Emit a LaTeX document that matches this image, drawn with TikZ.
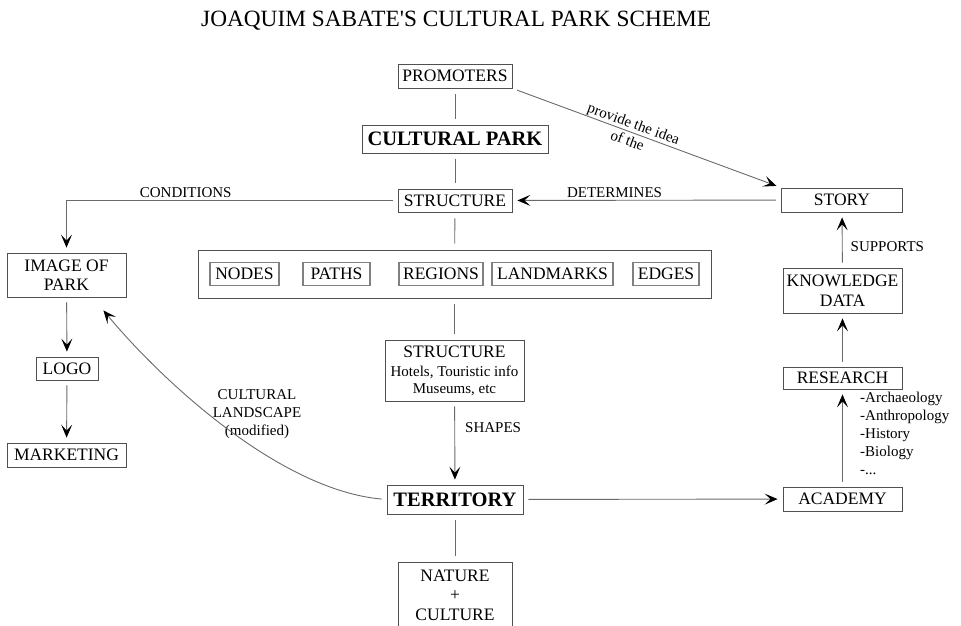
\documentclass[tikz,border=0pt]{standalone}
\usepackage{fontspec}
\setmainfont{Liberation Serif}
\newfontfamily\titlefont[Ligatures=TeXOff]{Liberation Serif}
\usetikzlibrary{arrows.meta}
\definecolor{linegray}{HTML}{6A6A6A}
\definecolor{boxgray}{HTML}{505050}
\newcommand\boxfont{\fontsize{17.5}{19.5}\selectfont}
\newcommand\labfont{\fontsize{15}{18}\selectfont}
\newcommand\bigfont{\fontsize{20.5}{24}\selectfont\bfseries}
\begin{document}
\begin{tikzpicture}[x=1pt,y=-1pt,
  box/.style={draw=boxgray, line width=0.8pt, inner sep=0pt, align=center, font=\boxfont},
  inbox/.style={box, line width=1.1pt, draw=gray, minimum height=23pt},
  conn/.style={draw=linegray, line width=0.9pt, shorten <=6pt, shorten >=6pt},
  arr/.style={draw=linegray, line width=0.9pt, -{Stealth[length=13pt,width=11pt,inset=6pt,color=black]}, shorten <=5pt, shorten >=5pt},
  lab/.style={font=\labfont, inner sep=2pt}]
\useasboundingbox (0,0) rectangle (961,625);
\node[anchor=base west, inner sep=0pt, font=\titlefont\fontsize{23.3}{27}\selectfont] (title) at (201,26) {JOAQUIM SABATE'S CULTURAL PARK SCHEME};
% centre column
\node[box, minimum width=114pt, minimum height=24pt] (prom) at (455,76) {PROMOTERS};
\node[box, font=\bigfont, minimum width=186pt, minimum height=28pt] (cp) at (455,139) {CULTURAL PARK};
\node[box, minimum width=114pt, minimum height=23pt] (struct) at (455,200.5) {STRUCTURE};
\node[box, minimum width=513pt, minimum height=48pt] (group) at (454.5,274) {};
\node[inbox, minimum width=69pt] (nodes) at (244.5,274) {NODES};
\node[inbox, minimum width=67pt] (paths) at (336.5,274) {PATHS};
\node[inbox, minimum width=84pt] (regions) at (441,274) {REGIONS};
\node[inbox, minimum width=121pt] (landmarks) at (552.5,274) {LANDMARKS};
\node[inbox, minimum width=66pt] (edges) at (666,274) {EDGES};
\node[box, minimum width=139pt, minimum height=61pt] (struct2) at (454.5,370.5)
  {STRUCTURE\\[-0.5pt]{\fontsize{15}{17}\selectfont Hotels, Touristic info}\\[-2.5pt]{\fontsize{15}{17}\selectfont Museums, etc}};
\node[box, font=\bigfont, minimum width=136pt, minimum height=29pt] (terr) at (455,499.5) {TERRITORY};
\node[box, minimum width=114pt, minimum height=66pt] (nature) at (455,595) {NATURE\\+\\CULTURE};
% left column
\node[box, minimum width=119pt, minimum height=44pt] (img) at (66.5,275) {IMAGE OF\\PARK};
\node[box, minimum width=62pt, minimum height=23pt] (logo) at (67,368.5) {LOGO};
\node[box, minimum width=119pt, minimum height=24pt] (mkt) at (66.5,455) {MARKETING};
% right column
\node[box, minimum width=121pt, minimum height=24pt] (story) at (842,200) {STORY};
\node[box, minimum width=119pt, minimum height=45pt] (know) at (842.5,290.5) {KNOWLEDGE\\DATA};
\node[box, minimum width=119pt, minimum height=22pt] (research) at (842.5,378) {RESEARCH};
\node[box, minimum width=119pt, minimum height=24pt] (academy) at (842.5,499) {ACADEMY};
\node[anchor=north west, inner sep=0pt, align=left, font=\labfont] (fields) at (860,392)
  {-Archaeology\\-Anthropology\\-History\\-Biology\\-...};
\node[lab, align=center] (cland) at (257,414) {CULTURAL\\LANDSCAPE\\(modified)};
\coordinate (curveend) at ([xshift=-23pt,yshift=-13pt]img.south east);
% connectors
\draw[conn] (prom) -- (cp);
\draw[conn] (cp) -- (struct);
\draw[conn] (struct) -- (group);
\draw[conn] (group) -- (struct2);
\draw[conn] (terr) -- (nature);
\draw[arr] (struct2) -- node[lab, anchor=west, pos=0.32, xshift=8pt] {SHAPES} (terr);
\draw[arr] (prom.south east) -- node[lab, sloped, pos=0.44, align=center, inner sep=0pt] {provide the idea\\of the} (story.north west);
\draw[arr] (story) -- node[lab, anchor=south, pos=0.62] {DETERMINES} (struct);
\draw[arr] (struct) -| node[lab, anchor=south, pos=0.32] {CONDITIONS} (img);
\draw[arr] (img) -- (logo);
\draw[arr] (logo) -- (mkt);
\draw[arr] (know) -- node[lab, anchor=west, pos=0.375, xshift=6pt] {SUPPORTS} (story);
\draw[arr] (research) -- (know);
\draw[arr] (academy) -- (research);
\draw[arr] (terr) -- (academy);
\draw[arr, shorten >=0pt] (terr.west) .. controls (280,490) and (163,382) .. (curveend);
\end{tikzpicture}
\end{document}
